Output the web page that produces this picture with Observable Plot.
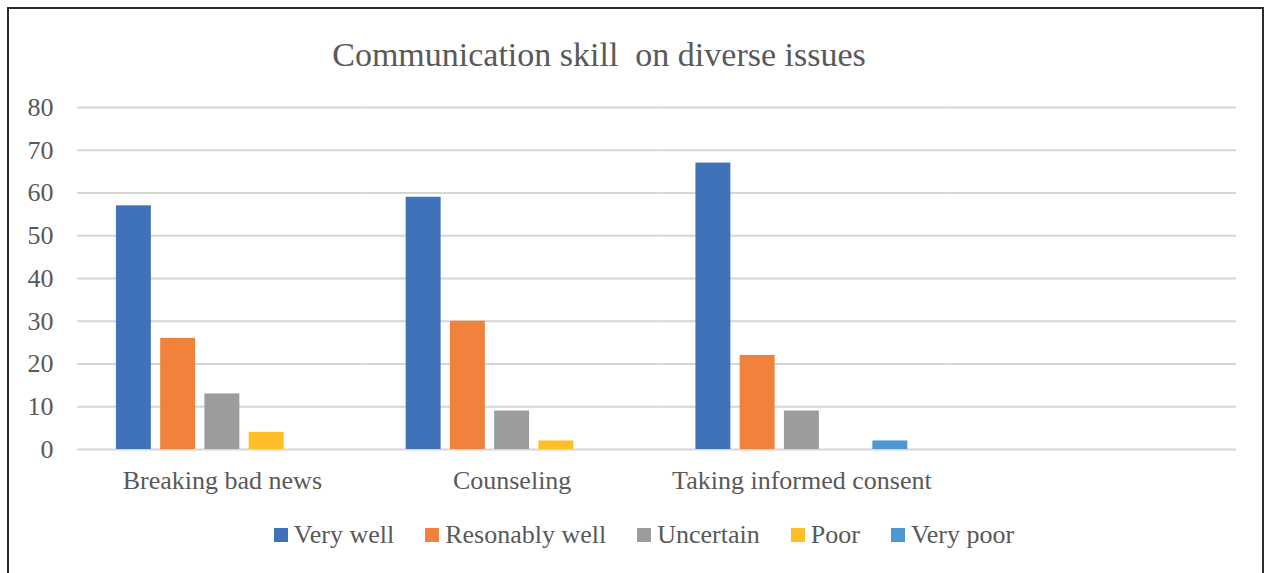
<!DOCTYPE html>
<html><head><meta charset="utf-8">
<script src="https://cdn.jsdelivr.net/npm/d3@7"></script>
<script src="https://cdn.jsdelivr.net/npm/@observablehq/plot@0.6"></script>
<style>
html,body{margin:0;padding:0;background:#fff;}
#wrap{position:relative;width:1269px;height:573px;overflow:hidden;background:#fff;}
#frame{position:absolute;left:7px;top:7px;width:1257px;height:620px;border:2px solid #2b2b2b;box-sizing:border-box;}
#title{position:absolute;left:0;top:38px;width:1198px;text-align:center;font-family:"Liberation Serif",serif;font-size:34px;line-height:34px;color:#595959;white-space:pre;}
#chart{position:absolute;left:0;top:90px;}
#legend{position:absolute;left:0;top:520px;width:1288px;}
#legend > div{display:flex !important;justify-content:center !important;align-items:center !important;font-family:"Liberation Serif",serif !important;font-size:26px !important;color:#595959 !important;min-height:30px !important;margin:0 !important;}
#legend span{margin-right:31px !important;display:inline-flex !important;align-items:center !important;}
#legend span:last-child{margin-right:0 !important;}
#legend span > svg{margin-right:6px !important;}
</style>
</head>
<body>
<div id="wrap">
  <div id="frame"></div>
  <div id="title"></div>
  <div id="chart"></div>
  <div id="legend"></div>
</div>
<script>
const titleText = "Communication skill  on diverse issues";
const categories = ["Breaking bad news", "Counseling", "Taking informed consent", ""];
const series = ["Very well", "Resonably well", "Uncertain", "Poor", "Very poor"];
const veryWell = [57, 59, 67];
const resonablyWell = [26, 30, 22];
const uncertain = [13, 9, 9];
const poor = [4, 2, 0];
const veryPoor = [0, 0, 2];
const colors = ["#3F72B9", "#F0823B", "#9A9C9D", "#FDBE28", "#4F97D4"];
const yTicks = [0, 10, 20, 30, 40, 50, 60, 70, 80];

const seriesValues = [veryWell, resonablyWell, uncertain, poor, veryPoor];
const rows = [];
seriesValues.forEach((vals, si) => {
  vals.forEach((v, ci) => rows.push({cat: categories[ci], series: series[si], value: v}));
});
const gridRows = [];
categories.forEach(c => yTicks.forEach(t => gridRows.push({cat: c, v: t})));

document.getElementById("title").textContent = titleText;

const plot = Plot.plot({
  width: 1269,
  height: 430,
  marginLeft: 77,
  marginRight: 33,
  marginTop: 17,
  marginBottom: 71,
  style: {fontFamily: '"Liberation Serif", serif', fontSize: "26px", color: "#595959", background: "transparent", overflow: "visible"},
  fx: {domain: categories, padding: 0, round: false, axis: "bottom", tickSize: 0, tickPadding: 21, label: null},
  x: {domain: series, paddingInner: 0.21, paddingOuter: 0.88, round: false, axis: null},
  y: {domain: [0, 80], ticks: 8, tickSize: 0, tickPadding: 24, label: null},
  color: {domain: series, range: colors},
  marks: [
    Plot.ruleY(gridRows, {fx: "cat", y: "v", stroke: "#d6d6d6", strokeWidth: 2}),
    Plot.barY(rows, {fx: "cat", x: "series", y: "value", fill: "series"})
  ]
});
document.getElementById("chart").appendChild(plot);

const legend = plot.legend("color", {swatchSize: 14, swatchWidth: 14, swatchHeight: 14});
document.getElementById("legend").appendChild(legend);
</script>
</body></html>
